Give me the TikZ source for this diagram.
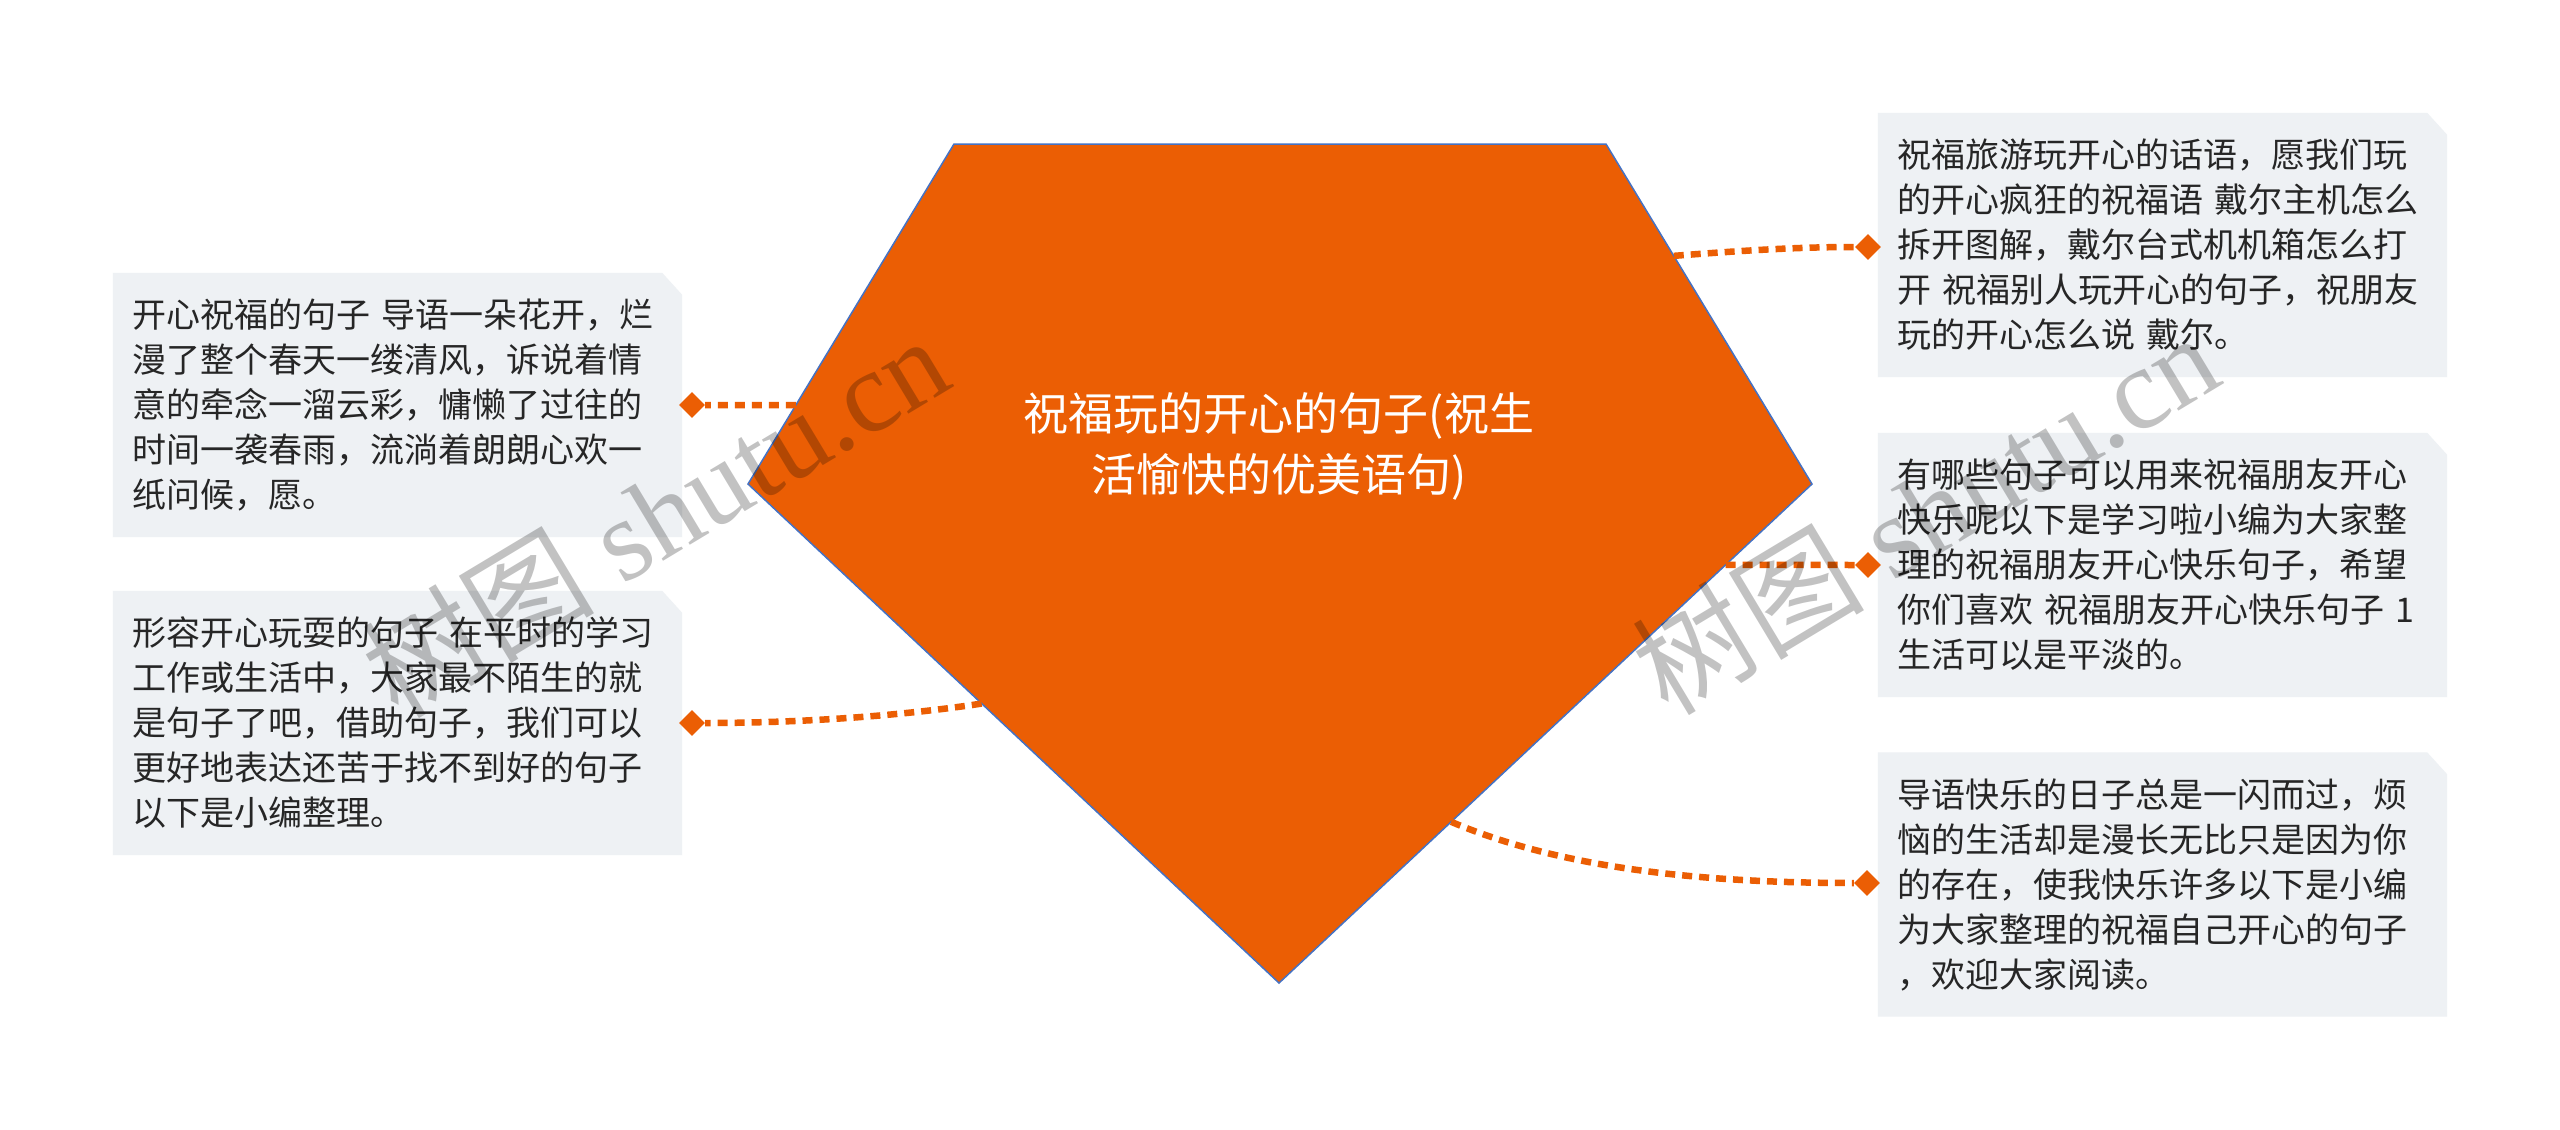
\documentclass[tikz,border=0pt]{standalone}
\usepackage{fontspec}
\newfontfamily\cjk{Noto Sans CJK SC}
\newfontfamily\wmserif{Liberation Serif}
\usetikzlibrary{shapes.geometric,backgrounds,calc}
\definecolor{orng}{RGB}{235,94,4}
\definecolor{edgeblue}{RGB}{68,114,196}
\definecolor{boxfill}{RGB}{238,241,244}
\definecolor{txt}{RGB}{38,38,38}
\begin{document}
\begin{tikzpicture}[x=1pt,y=-1pt,
  leaf/.style={text width=531pt, inner xsep=19pt, inner ysep=0pt, minimum height=264pt,
    align=left, font=\cjk\fontsize{34}{45}\selectfont, text=txt},
  dot/.style={diamond, fill=orng, minimum width=26pt, minimum height=26pt, inner sep=0pt},
  link/.style={draw=orng, line width=6.5pt, dash pattern=on 10pt off 7pt},
  wm/.style={rotate=31, text=black, text opacity=0.24, inner sep=0pt,
    font=\wmserif\fontsize{116}{116}\selectfont}
]
\useasboundingbox (0,0) rectangle (2560,1130);

% central pentagon
\coordinate (p1) at (954,144);
\coordinate (p2) at (1606,144);
\coordinate (p3) at (1812,484);
\coordinate (p4) at (1279,983);
\coordinate (p5) at (748,484);
\path[fill=orng, draw=edgeblue, line width=1.5pt, line join=miter] (p1) -- (p2) -- (p3) -- (p4) -- (p5) -- cycle;
\node[align=center, text=white, font=\cjk\fontsize{45}{61}\selectfont, inner sep=0pt] (c) at (1279,446)
  {祝福玩的开心的句子(祝生\\活愉快的优美语句)};

% leaf boxes
\node[leaf] (l1) at (397.5,405) {开心祝福的句子 导语一朵花开，烂\\漫了整个春天一缕清风，诉说着情\\意的牵念一溜云彩，慵懒了过往的\\时间一袭春雨，流淌着朗朗心欢一\\纸问候，愿。};
\node[leaf] (l2) at (397.5,723) {形容开心玩耍的句子 在平时的学习\\工作或生活中，大家最不陌生的就\\是句子了吧，借助句子，我们可以\\更好地表达还苦于找不到好的句子\\以下是小编整理。};
\node[leaf] (r1) at (2162.5,245) {祝福旅游玩开心的话语，愿我们玩\\的开心疯狂的祝福语 戴尔主机怎么\\拆开图解，戴尔台式机机箱怎么打\\开 祝福别人玩开心的句子，祝朋友\\玩的开心怎么说 戴尔。};
\node[leaf] (r2) at (2162.5,565) {有哪些句子可以用来祝福朋友开心\\快乐呢以下是学习啦小编为大家整\\理的祝福朋友开心快乐句子，希望\\你们喜欢 祝福朋友开心快乐句子 1\\生活可以是平淡的。};
\node[leaf] (r3) at (2162.5,884.5) {导语快乐的日子总是一闪而过，烦\\恼的生活却是漫长无比只是因为你\\的存在，使我快乐许多以下是小编\\为大家整理的祝福自己开心的句子\\，欢迎大家阅读。};

\begin{scope}[on background layer]
  \fill[white] (0,0) rectangle (2560,1130);
  \foreach \n in {l1,l2,r1,r2,r3}
    \fill[boxfill] (\n.south west) -- (\n.north west) -- ([xshift=-20pt]\n.north east)
      -- ([yshift=-22pt]\n.north east) -- (\n.south east) -- cycle;
\end{scope}

% diamonds
\node[dot] (dL1) at (692,405) {};
\node[dot] (dL2) at (692,723) {};
\node[dot] (dR1) at (1868,247) {};
\node[dot] (dR2) at (1868,565) {};
\node[dot] (dR3) at (1867,883) {};

% edge points on pentagon
\coordinate (eL1) at ($(p5)!0.232!(p1)$);
\coordinate (eL2) at ($(p5)!0.44!(p4)$);
\coordinate (eR1) at ($(p2)!0.329!(p3)$);
\coordinate (eR2) at ($(p3)!0.162!(p4)$);
\coordinate (eR3) at ($(p3)!0.677!(p4)$);

% connectors
\draw[link] (eL1) -- (dL1.east);
\draw[link] (eL2) .. controls (900,716) and (800,723) .. (dL2.east);
\draw[link] (eR1) .. controls (1750,250) and (1800,247) .. (dR1.west);
\draw[link] (eR2) -- (dR2.west);
\draw[link] (eR3) .. controls (1560,868) and (1700,883) .. (dR3.west);

% watermark
\node[wm] (wm1) at (655,515) {{\cjk 树图} shutu.cn};
\node[wm] (wm2) at (1925,512) {{\cjk 树图} shutu.cn};
\end{tikzpicture}
\end{document}
